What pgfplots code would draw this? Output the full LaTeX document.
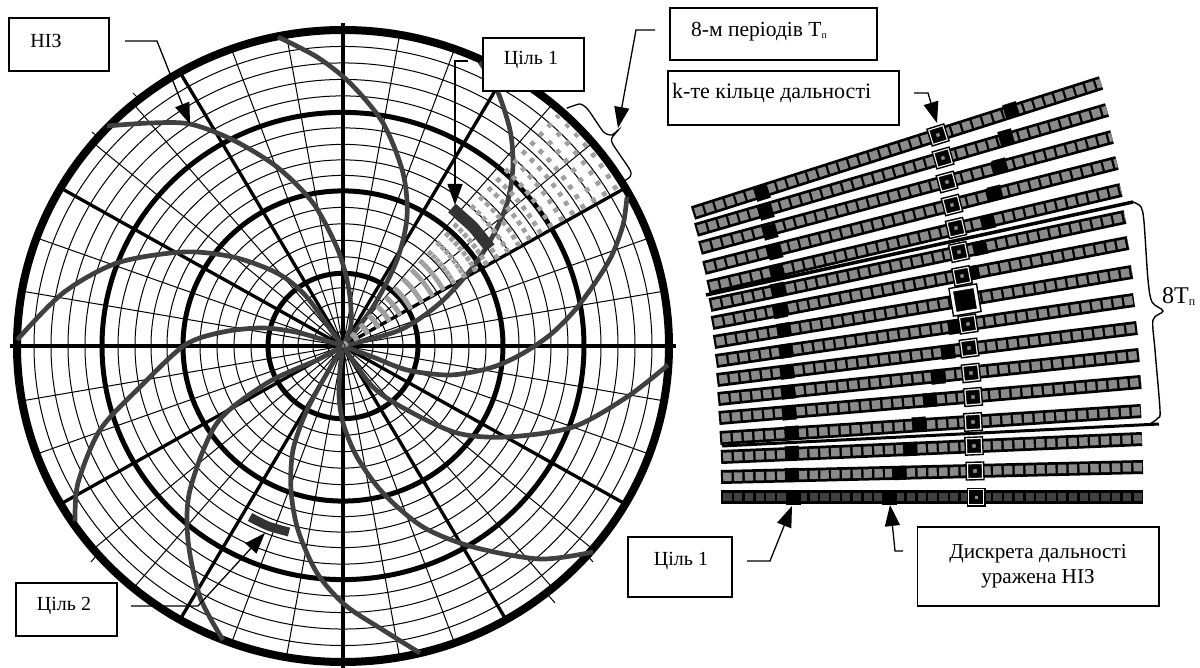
\documentclass[border=0pt]{standalone}
\usepackage{fontspec}
\setmainfont{Liberation Serif}
\usepackage{pgfplots}
\pgfplotsset{compat=1.18}
\usepgfplotslibrary{polar}
\usetikzlibrary{arrows.meta}
\definecolor{spiral}{HTML}{404040}
\definecolor{cell}{HTML}{8A8A8A}
\definecolor{sector}{HTML}{A0A0A0}

% one range row: x0 y0 x1 y1 angle, black cells, ring cell, cell colour
\newcommand\rangerow[8]{
  \addplot[black,line width=14pt] coordinates {(#1,#2)(#3,#4)};
  \addplot[#8,line width=8.5pt,dash pattern=on 8.4pt off 2.4pt,dash phase=8.6pt] coordinates {(#1,#2)(#3,#4)};
  \addplot[only marks,mark=square*,mark size=6.8pt,mark options={black,rotate=#5}] coordinates {#6};
  \addplot[only marks,mark=square*,mark size=8.8pt,mark options={draw=black,fill=white,line width=1.4pt,rotate=#5}] coordinates {#7};
  \addplot[only marks,mark=square*,mark size=6.6pt,mark options={black,rotate=#5}] coordinates {#7};
  \addplot[only marks,mark=square*,mark size=2pt,mark options={draw=none,fill=cell,rotate=#5}] coordinates {#7};
}
\newcommand\sub[1]{\raisebox{-2pt}{\fontsize{10}{10}\selectfont #1}}
\tikzset{leader/.style={-{Triangle[length=21pt,width=15pt]},line width=1.3pt}}
\tikzset{dots/.style={sector,line width=4.7pt,dash pattern=on 4.8pt off 7.7pt}}

\begin{document}
\begin{tikzpicture}[x=1pt,y=1pt]
\path[use as bounding box] (0,0) rectangle (1200,668);

% polar grid
\begin{polaraxis}[
  at={(343pt,322pt)},anchor=center,
  scale only axis,width=652pt,height=632pt,
  xmin=0,xmax=360,ymin=0,ymax=326,
  xtick={0,30,...,330},
  minor xtick={10,20,40,50,70,80,100,110,130,140,160,170,190,200,220,230,250,260,280,290,310,320,340,350},
  ytick={75,160,241},
  minor ytick={15,30,45,60,92,109,126,143,176,192,208,225,258,275,292,309},
  xticklabels={},yticklabels={},
  tick style={draw=none},
  grid=both,
  major x grid style={black,line width=3.3pt},
  major y grid style={black,line width=5pt},
  minor x grid style={black,line width=1pt},
  minor y grid style={black,line width=1pt},
  x axis line style={black,line width=8pt},
  y axis line style={draw=none},
]
\end{polaraxis}

\begin{axis}[
  at={(0pt,0pt)},anchor=south west,
  scale only axis,width=1200pt,height=668pt,
  xmin=0,xmax=1200,ymin=0,ymax=668,y dir=reverse,
  hide axis,clip=false,
]
% axes overshoot and thin stubs
\addplot[black,line width=3.3pt] coordinates {(10,346)(676,346)};
\addplot[black,line width=3.3pt] coordinates {(343,23)(343,669)};
\addplot[black,line width=1pt] coordinates {(140,100)(133,93)};
\addplot[black,line width=1pt] coordinates {(100,139)(92,132)};
\addplot[black,line width=1pt] coordinates {(97,555)(91,562)};
\addplot[black,line width=1pt] coordinates {(587,555)(593,562)};
\addplot[black,line width=1pt] coordinates {(549,596)(555,603)};

% spirals
\addplot[spiral,line width=4.7pt,smooth] coordinates {(17,340)(63,293)(117,263)(183,252)(233,257)(277,273)(305,295)(333,333)(343,346)};
\addplot[spiral,line width=4.7pt,smooth] coordinates {(107,126)(150,123)(190,124)(233,140)(277,167)(313,203)(338,250)(349,290)(351,325)(343,346)};
\addplot[spiral,line width=4.7pt,smooth] coordinates {(278,37)(317,57)(350,83)(383,123)(403,173)(407,217)(397,260)(373,307)(343,346)};
\addplot[spiral,line width=4.7pt,smooth] coordinates {(480,62)(497,90)(510,130)(513,165)(508,200)(495,232)(473,267)(440,303)(400,330)(343,346)};
\addplot[spiral,line width=4.7pt,smooth] coordinates {(627,197)(623,225)(612,255)(597,280)(575,310)(550,335)(520,355)(490,368)(450,375)(407,370)(373,357)(343,346)};
\addplot[spiral,line width=4.7pt,smooth] coordinates {(668,365)(627,397)(573,427)(507,437)(457,433)(407,410)(373,387)(343,346)};
\addplot[spiral,line width=4.7pt,smooth] coordinates {(593,552)(540,559)(473,547)(423,527)(383,493)(357,457)(343,423)(339,395)(340,370)(343,346)};
\addplot[spiral,line width=4.7pt,smooth] coordinates {(420,653)(383,630)(345,605)(317,573)(298,530)(291,490)(293,450)(307,410)(330,368)(343,346)};
\addplot[spiral,line width=4.7pt,smooth] coordinates {(223,640)(200,597)(188,540)(190,490)(217,423)(267,383)(317,360)(343,346)};
\addplot[spiral,line width=4.7pt,smooth] coordinates {(75,521)(78,483)(100,430)(140,387)(185,345)(223,332)(263,328)(300,333)(343,346)};

% eight periods in the sector
\addplot[dots] coordinates {(343,346)(618.2,185.8)};
\addplot[dots] coordinates {(343,346)(611.0,174.8)};
\addplot[dots] coordinates {(343,346)(603.4,164.1)};
\addplot[dots] coordinates {(343,346)(595.3,153.7)};
\addplot[dots] coordinates {(343,346)(586.7,143.6)};
\addplot[dots] coordinates {(343,346)(577.8,133.9)};
\addplot[dots] coordinates {(343,346)(568.4,124.6)};
\addplot[dots] coordinates {(343,346)(558.6,115.6)};
\addplot[only marks,mark=diamond*,mark size=3.5pt,mark options={draw=none,fill=sector!70!black}] coordinates {(343,346)};

% targets
\addplot[spiral!80!black,line width=11.5pt,smooth] coordinates {(452,208)(462,217)(473,227)(482,238)(490,248)};
\addplot[spiral!80!black,line width=9pt,smooth] coordinates {(250,517)(268,526)(289,532)};

% range rows
\rangerow{693}{213}{1101}{83}{17.5}{(762,193)(1011,110)}{(938,135)}{cell}
\rangerow{696}{230}{1107}{110}{16}{(766,212)(1006,137)}{(943,158)}{cell}
\rangerow{700}{248}{1112}{137}{15.1}{(770,232)(1000,166)}{(947,182)}{cell}
\rangerow{704}{268}{1117}{163}{14.3}{(775,252)(995,193)}{(952,205)}{cell}
\rangerow{708}{287}{1121}{190}{13.2}{(777,272)(988,222)}{(956,228)}{cell}
\rangerow{710}{305}{1125}{217}{12}{(778,290)(980,248)}{(959,252)}{cell}
\rangerow{712}{323}{1128}{243}{10.9}{(780,311)(972,273)}{(962,276)}{cell}
\rangerow{714}{342}{1132}{272}{9.5}{(784,330)(964,300)}{(965,300)}{cell}
\rangerow{716}{361}{1134}{300}{8.3}{(786,351)(955,327)}{(968,324)}{cell}
\rangerow{717}{380}{1137}{328}{7.1}{(787,372)(948,352)}{(969,348)}{cell}
\rangerow{718}{399}{1139}{355}{6}{(788,392)(938,377)}{(971,373)}{cell}
\rangerow{719}{418}{1141}{382}{4.9}{(789,413)(930,400)}{(973,397)}{cell}
\rangerow{720}{438}{1141}{411}{3.7}{(792,433)(919,424)}{(973,422)}{cell}
\rangerow{721}{457}{1142}{439}{2.4}{(792,453)(910,449)}{(974,446)}{cell}
\rangerow{721}{477}{1143}{467}{1.4}{(792,475)(899,473)}{(975,471)}{cell}
\rangerow{721}{497}{1143}{497}{0}{(793,497)(889,497)}{(976,497)}{spiral}
% the ring cell hit by the interference
\addplot[only marks,mark=square*,mark size=14pt,mark options={draw=black,fill=white,line width=1.4pt,rotate=9.5}] coordinates {(965,300)};
\addplot[only marks,mark=square*,mark size=10pt,mark options={black,rotate=9.5}] coordinates {(965,300)};

% 8T bounds
\addplot[black,line width=3.5pt] coordinates {(706,295)(1133,202)};
\addplot[black,line width=3pt] coordinates {(722,446)(1159,424)};
\addplot[black,line width=1.4pt,smooth] coordinates {(1133,202)(1141,207)(1144,222)(1148,280)(1152,302)(1163,311)(1153,320)(1155,350)(1160,410)(1158,418)(1150,424)};
% brace on the circle
\addplot[black,line width=1.3pt,smooth,tension=.4] coordinates {(566.7,108.3)(580,104)(588.3,110)(603.3,131.7)(611.7,135)(618.3,130)(611.7,138.3)(613.3,145)(630,170)(630,176.7)(623.3,181.7)};

% leaders
\addplot[leader] coordinates {(125,41)(157,41)(190,124)};
\addplot[leader] coordinates {(468,61)(455,61)(455,205)};
\addplot[leader] coordinates {(655,30)(636,30)(618,128)};
\addplot[leader] coordinates {(914,93)(928,93)(937,123)};
\addplot[leader] coordinates {(131,606)(198,606)(265,533)};
\addplot[leader] coordinates {(747,561)(770,561)(792,506)};
\addplot[leader] coordinates {(903,551)(895,551)(893,531)(890,505)};

% boxes
\draw[line width=1.3pt,fill=white] (axis cs:9,18) rectangle (axis cs:109,71);
\draw[line width=1.3pt,fill=white] (axis cs:483,38) rectangle (axis cs:584,91);
\draw[line width=1.3pt,fill=white] (axis cs:670,8) rectangle (axis cs:877,60);
\draw[line width=1.3pt,fill=white] (axis cs:668,71) rectangle (axis cs:899,125);
\draw[line width=1.3pt,fill=white] (axis cs:16,583) rectangle (axis cs:117,636);
\draw[line width=1.3pt,fill=white] (axis cs:628,537) rectangle (axis cs:732,597);
\draw[line width=1.3pt,fill=white] (axis cs:917.5,527) rectangle (axis cs:1159,606);

\node[font=\fontsize{20}{22}\selectfont] at (axis cs:46,41) {НІЗ};
\node[font=\fontsize{20}{22}\selectfont] at (axis cs:531,60) {Ціль 1};
\node[font=\fontsize{21.5}{23}\selectfont,anchor=west,inner sep=0pt] at (axis cs:691,32) {8-м періодів T\sub{п}};
\node[font=\fontsize{22}{24}\selectfont,anchor=west,inner sep=0pt] at (axis cs:672,93) {k-те кільце дальності};
\node[font=\fontsize{20}{22}\selectfont] at (axis cs:64,606) {Ціль 2};
\node[font=\fontsize{20}{22}\selectfont] at (axis cs:681,561) {Ціль 1};
\node[font=\fontsize{21.2}{23}\selectfont] at (axis cs:1038,554) {Дискрета дальності};
\node[font=\fontsize{21.2}{23}\selectfont] at (axis cs:1038,579) {уражена НІЗ};
\node[font=\fontsize{24}{26}\selectfont,anchor=west,inner sep=0pt] at (axis cs:1162,297) {8T\raisebox{-2pt}{\fontsize{12}{12}\selectfont п}};
\end{axis}
\end{tikzpicture}
\end{document}
